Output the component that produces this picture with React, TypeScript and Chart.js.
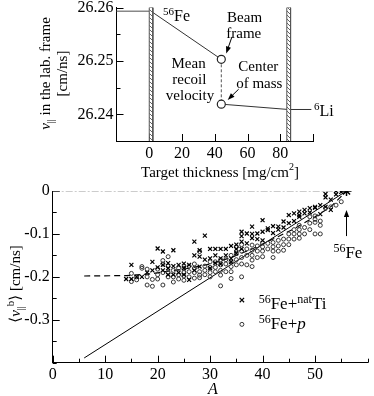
import React, { useEffect, useRef } from "react";
import { Chart, registerables } from "chart.js";

Chart.register(...registerables);

const W = 374;
const H = 396;
const FONT = '"Liberation Serif", "DejaVu Serif", "Times New Roman", serif';

// ---------------- top panel data ----------------
const topXMin = -20;
const topXMax = 100;
const topYMin = 26.235;
const topYMax = 26.26;
const topXTickValues = [0, 20, 40, 60, 80, 100];
const topXTickLabels = ["0", "20", "40", "60", "80", ""];
const topYTickValues = [26.24, 26.245, 26.25, 26.255, 26.26];
const topYTickLabels = ["26.24", "", "26.25", "", "26.26"];

const beamInX = [-20, 0];
const beamInV = [26.2593, 26.2593];
const beamSlowX = [1.1, 44];
const beamSlowV = [26.2593, 26.2503];
const recoilGapX = [44, 44];
const recoilGapV = [26.2503, 26.2419];
const liLineX = [44, 85, 99];
const liLineV = [26.2419, 26.2409, 26.2409];
const frameCircleX = [44, 44];
const frameCircleV = [26.2503, 26.2419];
const slab1X = [0, 2.2];
const slab2X = [84, 86.3];

// ---------------- bottom panel data ----------------
const botXTickValues = [0, 5, 10, 15, 20, 25, 30, 35, 40, 45, 50, 55, 60];
const botXTickLabels = ["0", "", "10", "", "20", "", "30", "", "40", "", "50", "", ""];
const botYTickValues = [0, -0.05, -0.1, -0.15, -0.2, -0.25, -0.3, -0.35, -0.4];
const botYTickLabels = ["0", "", "-0.1", "", "-0.2", "", "-0.3", "", ""];

const tiPoints: [number, number[]][] = [
  [14, [-0.205]],
  [15, [-0.172, -0.205]],
  [16, [-0.2]],
  [17, [-0.2]],
  [18, [-0.19]],
  [19, [-0.165, -0.185]],
  [20, [-0.134, -0.178]],
  [21, [-0.141, -0.172, -0.185]],
  [22, [-0.168, -0.18, -0.195]],
  [23, [-0.138, -0.175, -0.195]],
  [24, [-0.172, -0.19]],
  [25, [-0.169, -0.18, -0.195]],
  [26, [-0.172, -0.207]],
  [27, [-0.118, -0.15, -0.185]],
  [28, [-0.138, -0.153, -0.176]],
  [29, [-0.104, -0.16]],
  [30, [-0.135, -0.157, -0.18]],
  [31, [-0.135, -0.15, -0.168]],
  [32, [-0.135, -0.157, -0.17]],
  [33, [-0.135, -0.15]],
  [34, [-0.128, -0.157, -0.165]],
  [35, [-0.125, -0.135, -0.145]],
  [36, [-0.095, -0.105, -0.118, -0.135]],
  [37, [-0.099, -0.122]],
  [38, [-0.083, -0.1, -0.11]],
  [39, [-0.099, -0.112]],
  [40, [-0.068, -0.095, -0.115]],
  [41, [-0.087, -0.091]],
  [42, [-0.082, -0.098]],
  [43, [-0.083, -0.09]],
  [44, [-0.071, -0.085]],
  [45, [-0.056, -0.075]],
  [46, [-0.052, -0.07]],
  [47, [-0.048, -0.056, -0.06]],
  [48, [-0.044, -0.052]],
  [49, [-0.04, -0.05]],
  [50, [-0.037, -0.039]],
  [51, [-0.033, -0.054]],
  [52, [-0.007, -0.015, -0.037]],
  [53, [-0.02, -0.044]],
  [54, [0, -0.008]],
  [55, [-0.002]],
];

const pPoints: [number, number[]][] = [
  [15, [-0.192, -0.211]],
  [16, [-0.2, -0.207]],
  [17, [-0.176, -0.18]],
  [18, [-0.182, -0.2, -0.219]],
  [19, [-0.206, -0.222]],
  [20, [-0.182, -0.195, -0.205]],
  [21, [-0.162, -0.17, -0.19, -0.219]],
  [22, [-0.153, -0.175, -0.19, -0.2]],
  [23, [-0.185, -0.2, -0.212]],
  [24, [-0.18, -0.195, -0.205]],
  [25, [-0.18, -0.19, -0.198, -0.208]],
  [26, [-0.175, -0.188, -0.2]],
  [27, [-0.17, -0.18, -0.19, -0.203]],
  [28, [-0.141, -0.188, -0.196, -0.202]],
  [29, [-0.175, -0.185, -0.195]],
  [30, [-0.165, -0.178, -0.19, -0.2]],
  [31, [-0.165, -0.178, -0.188]],
  [32, [-0.16, -0.172, -0.185, -0.196, -0.221]],
  [33, [-0.16, -0.17, -0.188]],
  [34, [-0.15, -0.165, -0.176, -0.188, -0.204]],
  [35, [-0.13, -0.145, -0.16, -0.172]],
  [36, [-0.125, -0.14, -0.155, -0.17, -0.2]],
  [37, [-0.135, -0.15, -0.172]],
  [38, [-0.126, -0.138, -0.15, -0.161, -0.176]],
  [39, [-0.128, -0.14, -0.155]],
  [40, [-0.121, -0.13, -0.14, -0.153]],
  [41, [-0.122, -0.135]],
  [42, [-0.12, -0.13, -0.14, -0.155]],
  [43, [-0.115, -0.128, -0.14]],
  [44, [-0.112, -0.125, -0.138]],
  [45, [-0.1, -0.112, -0.125]],
  [46, [-0.09, -0.1, -0.112]],
  [47, [-0.08, -0.09, -0.1, -0.11]],
  [48, [-0.085, -0.1]],
  [49, [-0.06, -0.075, -0.09]],
  [50, [-0.058, -0.066, -0.073, -0.1]],
  [51, [-0.07, -0.08, -0.1]],
  [52, [-0.04]],
  [53, [-0.037]],
  [54, [-0.033]],
  [55, [-0.025]],
];

const fitLineA = [6, 56];
const fitLineV = [-0.389, 0];
const systA = [6, 14, 18, 22, 26, 30, 34, 38, 42, 46, 50, 53, 56];
const systV = [-0.198, -0.197, -0.194, -0.187, -0.18, -0.17, -0.155, -0.135, -0.112, -0.088, -0.06, -0.037, 0];
const zeroLineA = [0, 55.5];
const zeroLineV = [0, 0];
const beamA = [56];
const beamV = [0];

// ---------------- helpers ----------------
type Part = { t: string; s?: number; dy?: number; it?: boolean };
type Label = { parts: Part[]; x: number; y: number; align: "left" | "center" | "right"; size?: number };
type Arrow = { x0: number; y0: number; x1: number; y1: number };
type Title = { parts: Part[]; px: number; py: number; rot?: boolean; size?: number };
type TickSpec = { axis: "x" | "y"; values: number[]; labels: string[]; allMajor?: boolean };

function drawRich(ctx: CanvasRenderingContext2D, parts: Part[], x: number, yMid: number, align: string, base = 15) {
  const font = (p: Part) => `${p.it ? "italic " : ""}${p.s ?? base}px ${FONT}`;
  let w = 0;
  for (const p of parts) {
    ctx.font = font(p);
    w += ctx.measureText(p.t).width;
  }
  let cx = align === "left" ? x : align === "center" ? x - w / 2 : x - w;
  const baseY = yMid + base * 0.35;
  ctx.textAlign = "left";
  ctx.textBaseline = "alphabetic";
  ctx.fillStyle = "#000";
  for (const p of parts) {
    ctx.font = font(p);
    ctx.fillText(p.t, cx, baseY + (p.dy ?? 0));
    cx += ctx.measureText(p.t).width;
  }
}

function arrowHead(ctx: CanvasRenderingContext2D, x0: number, y0: number, x1: number, y1: number) {
  const ang = Math.atan2(y1 - y0, x1 - x0);
  const L = 7;
  const Wd = 2.6;
  ctx.beginPath();
  ctx.moveTo(x0, y0);
  ctx.lineTo(x1 - Math.cos(ang) * 3, y1 - Math.sin(ang) * 3);
  ctx.stroke();
  ctx.beginPath();
  ctx.moveTo(x1, y1);
  ctx.lineTo(x1 - L * Math.cos(ang) + Wd * Math.sin(ang), y1 - L * Math.sin(ang) - Wd * Math.cos(ang));
  ctx.lineTo(x1 - L * Math.cos(ang) - Wd * Math.sin(ang), y1 - L * Math.sin(ang) + Wd * Math.cos(ang));
  ctx.closePath();
  ctx.fill();
}

const isLabeled = (values: number[], labels: string[], v: number) => {
  const i = values.findIndex((t) => Math.abs(t - v) < 1e-7);
  return i >= 0 ? labels[i] : "";
};

function annotPlugin(cfg: {
  ticks: TickSpec[];
  labels: Label[];
  arrows: Arrow[];
  titles: Title[];
  legend?: { kind: "cross" | "circle"; x: number; y: number }[];
}) {
  return {
    id: "annot",
    beforeDatasetsDraw(chart: any) {
      const { ctx, chartArea: a, scales } = chart;
      ctx.save();
      ctx.strokeStyle = "#000";
      ctx.lineWidth = 1;
      for (const spec of cfg.ticks) {
        const sc = scales[spec.axis];
        spec.values.forEach((v, i) => {
          const major = spec.allMajor || spec.labels[i] !== "";
          const len = major ? 7 : 4;
          const p = Math.round(sc.getPixelForValue(v)) + 0.5;
          ctx.beginPath();
          if (spec.axis === "x") {
            ctx.moveTo(p, a.bottom);
            ctx.lineTo(p, a.bottom - len);
          } else {
            ctx.moveTo(a.left, p);
            ctx.lineTo(a.left + len, p);
          }
          ctx.stroke();
        });
      }
      ctx.restore();
    },
    afterDraw(chart: any) {
      const { ctx, scales } = chart;
      const sx = scales.x;
      const sy = scales.y;
      ctx.save();
      for (const l of cfg.labels) {
        drawRich(ctx, l.parts, sx.getPixelForValue(l.x), sy.getPixelForValue(l.y), l.align, l.size ?? 15);
      }
      ctx.strokeStyle = "#000";
      ctx.fillStyle = "#000";
      ctx.lineWidth = 1;
      for (const ar of cfg.arrows) {
        arrowHead(
          ctx,
          sx.getPixelForValue(ar.x0),
          sy.getPixelForValue(ar.y0),
          sx.getPixelForValue(ar.x1),
          sy.getPixelForValue(ar.y1)
        );
      }
      for (const t of cfg.titles) {
        if (t.rot) {
          ctx.save();
          ctx.translate(t.px, t.py);
          ctx.rotate(-Math.PI / 2);
          drawRich(ctx, t.parts, 0, 0, "center", t.size ?? 15);
          ctx.restore();
        } else {
          drawRich(ctx, t.parts, t.px, t.py, "center", t.size ?? 15);
        }
      }
      for (const m of cfg.legend ?? []) {
        const px = sx.getPixelForValue(m.x);
        const py = sy.getPixelForValue(m.y);
        ctx.beginPath();
        if (m.kind === "cross") {
          ctx.strokeStyle = "#000";
          ctx.lineWidth = 1.2;
          ctx.moveTo(px - 2.2, py - 2.2);
          ctx.lineTo(px + 2.2, py + 2.2);
          ctx.moveTo(px + 2.2, py - 2.2);
          ctx.lineTo(px - 2.2, py + 2.2);
        } else {
          ctx.strokeStyle = "#333";
          ctx.lineWidth = 1;
          ctx.arc(px, py, 2, 0, Math.PI * 2);
        }
        ctx.stroke();
      }
      ctx.restore();
    },
  };
}

function hatch(): any {
  const c = document.createElement("canvas");
  c.width = 4;
  c.height = 4;
  const g = c.getContext("2d")!;
  g.fillStyle = "#fff";
  g.fillRect(0, 0, 4, 4);
  g.strokeStyle = "#666";
  g.lineWidth = 1;
  g.beginPath();
  g.moveTo(0, 0);
  g.lineTo(4, 4);
  g.stroke();
  return g.createPattern(c, "repeat");
}

const zip = (xs: number[], ys: number[]) => xs.map((x, i) => ({ x, y: ys[i] }));
const flat = (pts: [number, number[]][]) => pts.flatMap(([a, vs]) => vs.map((v) => ({ x: a, y: v })));

function axis(min: number, max: number, values: number[], labels: string[], size: number, isX: boolean, pad: number) {
  return {
    type: "linear",
    min,
    max,
    afterBuildTicks: (s: any) => {
      s.ticks = values.map((value) => ({ value }));
    },
    afterFit: (s: any) => {
      if (isX) s.height = size;
      else s.width = size;
      s.paddingLeft = 0;
      s.paddingRight = 0;
      s.paddingTop = 0;
      s.paddingBottom = 0;
    },
    ticks: {
      autoSkip: false,
      maxRotation: 0,
      minRotation: 0,
      padding: pad,
      color: "#000",
      font: { size: 16, family: FONT },
      callback: (v: any) => isLabeled(values, labels, Number(v)),
    },
    grid: { display: false, drawTicks: false },
    border: { display: true, color: "#000", width: 1 },
  };
}

const lineDs = (data: any[], color: string, width: number, dash: number[] = []) => ({
  data,
  showLine: true,
  borderColor: color,
  borderWidth: width,
  borderDash: dash,
  pointRadius: 0,
  fill: false,
});

function topConfig(): any {
  const pat = hatch();
  const slab = (xs: number[]) => ({
    data: zip([xs[0], xs[0], xs[1], xs[1]], [topYMin, topYMax, topYMax, topYMin]),
    showLine: true,
    borderColor: "#555",
    borderWidth: 1,
    backgroundColor: pat,
    pointRadius: 0,
    fill: "start",
  });
  const yW = 60;
  const xH = 30;
  return {
    type: "scatter",
    data: {
      datasets: [
        {
          data: zip(frameCircleX, frameCircleV),
          pointStyle: "circle",
          pointRadius: 4,
          borderColor: "#222",
          borderWidth: 1.2,
          backgroundColor: "#fff",
        },
        slab(slab1X),
        slab(slab2X),
        lineDs(zip(recoilGapX, recoilGapV), "#555", 1, [3, 2]),
        lineDs(zip(beamSlowX, beamSlowV), "#333", 1),
        lineDs(zip(liLineX, liLineV), "#333", 1),
        lineDs(zip(beamInX, beamInV), "#888", 1.6),
      ],
    },
    options: {
      responsive: false,
      animation: false,
      events: [],
      layout: { padding: { left: 116.5 - yW, top: 7.5, right: W - 313, bottom: H - 141 - xH } },
      plugins: { legend: { display: false }, tooltip: { enabled: false } },
      scales: {
        x: axis(topXMin, topXMax, topXTickValues, topXTickLabels, xH, true, 3),
        y: axis(topYMin, topYMax, topYTickValues, topYTickLabels, yW, false, 3),
      },
    },
    plugins: [
      annotPlugin({
        ticks: [
          { axis: "x", values: topXTickValues, labels: topXTickLabels, allMajor: true },
          { axis: "y", values: topYTickValues, labels: topYTickLabels },
        ],
        labels: [
          { parts: [{ t: "56", s: 11, dy: -6 }, { t: "Fe" }], x: 8.4, y: 26.2586, align: "left", size: 16 },
          { parts: [{ t: "Beam" }], x: 58.2, y: 26.2583, align: "center" },
          { parts: [{ t: "frame" }], x: 57.7, y: 26.2553, align: "center" },
          { parts: [{ t: "Mean" }], x: 24.0, y: 26.2497, align: "center" },
          { parts: [{ t: "recoil" }], x: 24.5, y: 26.2466, align: "center" },
          { parts: [{ t: "velocity" }], x: 24.9, y: 26.2436, align: "center" },
          { parts: [{ t: "Center" }], x: 66.6, y: 26.249, align: "center" },
          { parts: [{ t: "of mass" }], x: 67.2, y: 26.246, align: "center" },
          { parts: [{ t: "6", s: 11, dy: -6 }, { t: "Li" }], x: 100.6, y: 26.2408, align: "left", size: 16 },
        ],
        arrows: [
          { x0: 50.5, y0: 26.2545, x1: 47.0, y1: 26.2514 },
          { x0: 54.6, y0: 26.2447, x1: 47.9, y1: 26.2427 },
        ],
        titles: [
          { parts: [{ t: "v", it: true }, { t: "||", s: 10, dy: 4 }, { t: " in the lab. frame" }], px: 45, py: 73.5, rot: true },
          { parts: [{ t: "[cm/ns]" }], px: 62, py: 73.5, rot: true },
          { parts: [{ t: "Target thickness [mg/cm" }, { t: "2", s: 10, dy: -7 }, { t: "]" }], px: 220, py: 172 },
        ],
      }),
    ],
  };
}

function bottomConfig(): any {
  const yW = 40;
  const xH = 25;
  return {
    type: "scatter",
    data: {
      datasets: [
        {
          data: zip(beamA, beamV),
          pointStyle: "star",
          pointRadius: 5,
          borderColor: "#000",
          borderWidth: 1.5,
        },
        {
          data: flat(tiPoints),
          pointStyle: "crossRot",
          pointRadius: 2.8,
          borderColor: "#000",
          borderWidth: 1.2,
        },
        {
          data: flat(pPoints),
          pointStyle: "circle",
          pointRadius: 2,
          borderColor: "#333",
          borderWidth: 1,
          backgroundColor: "rgba(0,0,0,0)",
        },
        lineDs(zip(fitLineA, fitLineV), "#000", 1),
        lineDs(zip(systA, systV), "#000", 1.2, [6, 4]),
        lineDs(zip(zeroLineA, zeroLineV), "#999", 1, [7, 2, 2, 2]),
      ],
    },
    options: {
      responsive: false,
      animation: false,
      events: [],
      layout: { padding: { left: 52.7 - yW, top: 191, right: W - 372.7, bottom: H - 362.7 - xH } },
      plugins: { legend: { display: false }, tooltip: { enabled: false } },
      scales: {
        x: axis(0, 60, botXTickValues, botXTickLabels, xH, true, 2),
        y: axis(-0.4, 0, botYTickValues, botYTickLabels, yW, false, 3),
      },
    },
    plugins: [
      annotPlugin({
        ticks: [
          { axis: "x", values: botXTickValues, labels: botXTickLabels },
          { axis: "y", values: botYTickValues, labels: botYTickLabels },
        ],
        labels: [
          { parts: [{ t: "56", s: 12, dy: -6 }, { t: "Fe" }], x: 53.5, y: -0.1415, align: "left", size: 17 },
          {
            parts: [{ t: "56", s: 12, dy: -6 }, { t: "Fe+" }, { t: "nat", s: 12, dy: -6 }, { t: "Ti" }],
            x: 39.25,
            y: -0.261,
            align: "left",
            size: 17,
          },
          { parts: [{ t: "56", s: 12, dy: -6 }, { t: "Fe+" }, { t: "p", it: true }], x: 39.25, y: -0.308, align: "left", size: 17 },
        ],
        arrows: [{ x0: 56, y0: -0.105, x1: 56, y1: -0.044 }],
        titles: [
          {
            parts: [
              { t: "\u27E8" },
              { t: "v", it: true },
              { t: "||", s: 10, dy: 4 },
              { t: "b", s: 11, dy: -6 },
              { t: "\u27E9" },
              { t: " [cm/ns]" },
            ],
            px: 15,
            py: 284,
            rot: true,
          },
          { parts: [{ t: "A", it: true }], px: 213, py: 388, size: 16 },
        ],
        legend: [
          { kind: "cross", x: 36.06, y: -0.254 },
          { kind: "circle", x: 36.06, y: -0.3107 },
        ],
      }),
    ],
  };
}

export default function App() {
  const topRef = useRef<HTMLCanvasElement>(null);
  const botRef = useRef<HTMLCanvasElement>(null);
  useEffect(() => {
    const top = new Chart(topRef.current!, topConfig());
    const bot = new Chart(botRef.current!, bottomConfig());
    return () => {
      top.destroy();
      bot.destroy();
    };
  }, []);
  const st: React.CSSProperties = { position: "absolute", left: 0, top: 0, width: W, height: H };
  return (
    <div style={{ position: "fixed", left: 0, top: 0, width: W, height: H, background: "#fff" }}>
      <canvas ref={botRef} width={W} height={H} style={st} />
      <canvas ref={topRef} width={W} height={H} style={st} />
    </div>
  );
}
